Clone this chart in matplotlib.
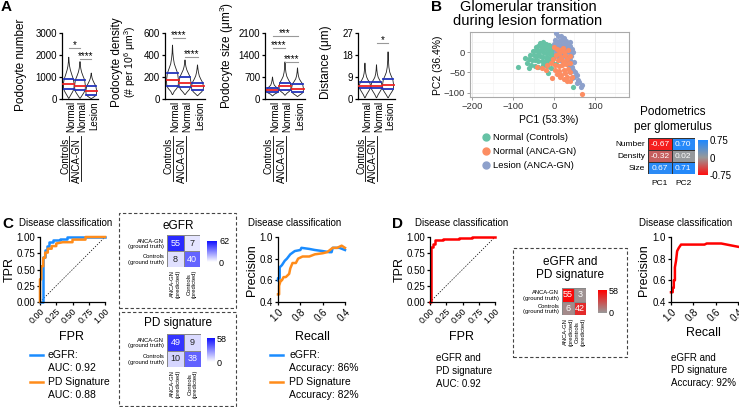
import numpy as np
import matplotlib
matplotlib.use('Agg')
import matplotlib.pyplot as plt
from matplotlib.colors import LinearSegmentedColormap
from matplotlib.patches import Rectangle, Polygon
from matplotlib.lines import Line2D

plt.rcParams['font.family'] = ['Liberation Sans', 'DejaVu Sans']
plt.rcParams['mathtext.fontset'] = 'custom'
plt.rcParams['mathtext.rm'] = 'Liberation Sans'
plt.rcParams['axes.linewidth'] = 0.9

W, H = 739, 407

# ---------------- data ----------------
group_labels = ['Controls', 'ANCA-GN']
sub_labels = ['Normal', 'Normal', 'Lesion']

# violin profiles: levels (index 3,4,5 = Q1, median, Q3) and relative half-widths
violin_widths = [0.03, 0.3, 0.7, 0.95, 1.0, 0.85, 0.55, 0.3, 0.15, 0.06, 0.01]
num_levels = [[30, 150, 320, 450, 680, 900, 1120, 1320, 1500, 1700, 1900],
              [30, 130, 280, 400, 600, 870, 1050, 1220, 1380, 1550, 1700],
              [20, 60, 130, 200, 370, 580, 720, 850, 960, 1080, 1180]]
dens_levels = [[40, 70, 95, 120, 170, 235, 280, 320, 370, 420, 490],
               [40, 60, 85, 110, 150, 200, 235, 265, 295, 325, 355],
               [30, 45, 65, 85, 115, 150, 180, 210, 245, 280, 310]]
size_levels = [[100, 150, 190, 220, 280, 340, 390, 440, 520, 610, 700],
               [120, 180, 240, 300, 410, 520, 620, 720, 850, 1000, 1180],
               [80, 120, 170, 220, 320, 480, 560, 640, 740, 860, 990]]
dist_levels = [[0.5, 1.8, 3.3, 4.3, 5.5, 6.8, 7.8, 9.0, 10.5, 12.5, 14.7],
               [0.5, 1.8, 3.3, 4.3, 5.5, 6.8, 7.8, 8.9, 10.3, 12.0, 14.0],
               [0.5, 1.6, 3.0, 4.0, 5.8, 8.0, 9.5, 11.0, 13.0, 16.0, 19.3]]
num_sig = [(1, 2, 2330, '*'), (2, 3, 1800, '****')]
dens_sig = [(1, 2, 555, '****'), (2, 3, 380, '****')]
size_sig = [(1, 3, 2010, '***'), (1, 2, 1610, '****'), (2, 3, 1190, '****')]
dist_sig = [(2, 3, 22.8, '*')]

# PCA scores
green_x = [-35, -28, -20, -12, -5, 0, -45, -38, -30, -22, -15, -8, -2, -52, -44, -36, -28, -20, -12, -5,
           -58, -50, -42, -34, -26, -18, -10, -3, -62, -54, -46, -38, -30, -22, -14, -6,
           -66, -56, -46, -38, -28, -18, -88, -70, -62, -15, -8, 5, 46, 4, -25, -32, -40, -17]
green_y = [22, 24, 20, 18, 15, 10, 12, 14, 12, 10, 8, 6, 2, 2, 4, 2, 0, -2, -3, -5,
           -8, -8, -10, -10, -12, -12, -14, -14, -18, -20, -20, -22, -22, -24, -24, -24,
           -28, -32, -34, -36, -32, -34, -37, -15, -38, -52, -40, -30, -86, -5, 16, 6, -4, -18]
orange_x = [0, 8, 15, 22, 12, 25, 5, 18, 28, -2, 10, 22, 32, -17, -41, -8, 2, 12, 20, 30, 38,
            2, 12, 24, 34, 8, 18, 28, 38, -5, 15, 32, 25, 32, 40, 45, 68, -20, -30, 35, 40]
orange_y = [12, 8, 5, 10, -2, 0, -8, -12, -8, -18, -20, -22, -18, -32, -37, -28, -32, -34, -32, -30, -28,
            -44, -46, -44, -42, -54, -56, -52, -50, -64, -60, -60, -66, -72, -70, -62, -102, -45, -38, 5, -10]
blue_x = [5, 10, 18, 25, 2, 12, 20, 30, 38, 0, 8, 16, 24, 32, 40, 2, 10, 18, 28, 36, 44,
          5, 14, 22, 30, 38, 46, 8, 16, 26, 34, 42, 12, 20, 30, 40, 48,
          36, 44, 46, 40, 52, 56, 48, 59, 44, 62, 55, 68, 65]
blue_y = [46, 38, 40, 35, 30, 28, 30, 28, 25, 20, 20, 18, 20, 18, 15, 10, 12, 8, 10, 6, 8,
          0, 2, -2, 0, -2, 0, -10, -12, -10, -12, -10, -20, -22, -22, -20, -25,
          -34, -36, -44, -48, -50, -56, -60, -68, -64, -74, -75, -80, -86]
pca_groups = ['Normal (Controls)', 'Normal (ANCA-GN)', 'Lesion (ANCA-GN)']
pca_colors = ['#66c2a5', '#fc8d62', '#8da0cb']

# podometric loadings
load_rows = ['Number', 'Density', 'Size']
load_cols = ['PC1', 'PC2']
loadings = [[-0.67, 0.70], [-0.32, 0.02], [0.67, 0.71]]

# ROC / PR curves
egfr_fpr = [0, 0.04, 0.04, 0.05, 0.05, 0.07, 0.07, 0.1, 0.1, 0.14, 0.14, 0.2, 0.2, 0.3, 0.3, 0.42, 0.42, 1.0]
egfr_tpr = [0, 0, 0.45, 0.45, 0.7, 0.7, 0.8, 0.8, 0.86, 0.86, 0.92, 0.92, 0.95, 0.95, 0.97, 0.97, 1.0, 1.0]
pd_fpr = [0, 0, 0.02, 0.02, 0.05, 0.05, 0.08, 0.08, 0.12, 0.12, 0.18, 0.18, 0.25, 0.25, 0.35, 0.5, 0.5, 0.7, 0.7, 1.0]
pd_tpr = [0, 0.35, 0.35, 0.55, 0.55, 0.68, 0.68, 0.76, 0.76, 0.82, 0.82, 0.86, 0.86, 0.9, 0.92, 0.92, 0.96, 0.96, 1.0, 1.0]
egfr_rec = [1.0, 1.0, 0.985, 0.985, 0.965, 0.94, 0.92, 0.89, 0.85, 0.8, 0.79, 0.72, 0.67, 0.6, 0.54, 0.52, 0.51, 0.45, 0.4]
egfr_prec = [0.6, 0.62, 0.62, 0.72, 0.74, 0.78, 0.8, 0.84, 0.87, 0.88, 0.9, 0.89, 0.88, 0.87, 0.86, 0.86, 0.9, 0.9, 0.88]
pd_rec = [1.0, 0.99, 0.99, 0.975, 0.965, 0.95, 0.93, 0.9, 0.89, 0.87, 0.84, 0.82, 0.78, 0.72, 0.67, 0.6, 0.56, 0.51, 0.47, 0.43, 0.4]
pd_prec = [0.47, 0.47, 0.55, 0.6, 0.6, 0.63, 0.63, 0.66, 0.71, 0.76, 0.76, 0.8, 0.82, 0.82, 0.84, 0.85, 0.86, 0.9, 0.9, 0.92, 0.9]
comb_fpr = [0, 0.02, 0.02, 0.04, 0.04, 0.08, 0.08, 0.2, 0.2, 0.45, 0.45, 0.65, 0.65, 1.0]
comb_tpr = [0, 0, 0.85, 0.85, 0.9, 0.9, 0.95, 0.95, 0.97, 0.97, 0.985, 0.985, 1.0, 1.0]
comb_rec = [1.0, 0.985, 0.985, 0.975, 0.975, 0.965, 0.965, 0.955, 0.945, 0.93, 0.91, 0.7, 0.68, 0.55, 0.4]
comb_prec = [0.49, 0.49, 0.53, 0.53, 0.6, 0.6, 0.72, 0.78, 0.87, 0.9, 0.93, 0.93, 0.94, 0.94, 0.91]

# confusion matrices
cm_rows = ['ANCA-GN\n(ground truth)', 'Controls\n(ground truth)']
cm_cols = ['ANCA-GN\n(predicted)', 'Controls\n(predicted)']
cm_egfr = [[55, 7], [8, 40]]
cm_pd = [[49, 9], [10, 38]]
cm_comb = [[55, 3], [6, 42]]

# ---------------- helpers ----------------
fig = plt.figure(figsize=(W / 100, H / 100), dpi=100)


def box(l, t, r, b):
    return [l / W, 1 - b / H, (r - l) / W, (b - t) / H]


def txt(x, y, s, **kw):
    kw.setdefault('ha', 'center')
    kw.setdefault('va', 'center')
    fig.text(x / W, 1 - y / H, s, **kw)


def prism(ax, fs=7):
    for s in ['top', 'right']:
        ax.spines[s].set_visible(False)
    ax.tick_params(length=2.5, width=0.9, labelsize=fs, pad=1)


def violin_ax(l, r, levels, ymax, yticks, sig):
    ax = fig.add_axes(box(l, 33, r, 99))
    prism(ax, 7)
    for i, lev in enumerate(levels):
        pos = i + 1
        w = np.array(violin_widths) * 0.48
        lev = np.array(lev, float)
        xs = np.concatenate([pos - w, (pos + w)[::-1]])
        ys = np.concatenate([lev, lev[::-1]])
        ax.add_patch(Polygon(np.column_stack([xs, ys]), closed=True, fc='white',
                             ec='#222222', lw=0.6, zorder=2))
        for k, c in [(3, '#2233bb'), (5, '#2233bb'), (4, '#ee2222')]:
            hw = violin_widths[k] * 0.48
            ax.plot([pos - hw, pos + hw], [lev[k], lev[k]], color=c, lw=1.3, zorder=3)
    for a, b, y, s in sig:
        ax.plot([a, b], [y, y], color='#999999', lw=0.8, clip_on=False)
        ax.text((a + b) / 2, y, s, ha='center', va='baseline', fontsize=7, clip_on=False)
    ax.set_xlim(0.4, 3.6)
    ax.set_ylim(0, ymax)
    ax.set_yticks(yticks)
    ax.set_xticks([])
    # category labels
    px = lambda p: l + (p - 0.4) / 3.2 * (r - l)
    for i, s in enumerate(sub_labels):
        txt(px(i + 1) + 2.5, 101, s, rotation=90, va='top', fontsize=7)
    for g, first in [(0, 1), (1, 2)]:
        txt(px(first) - 3.5, 138, group_labels[g], rotation=90, va='top', fontsize=7)
        fig.add_artist(Line2D([(px(first) + 0.5) / W] * 2, [1 - 136 / H, 1 - 181 / H], color='black', lw=0.6))
    return ax


def roc_ax(l, fpr_list, tpr_list, colors):
    ax = fig.add_axes(box(l, 237, l + 65, 302))
    prism(ax, 7)
    ax.plot([0, 1], [0, 1], color='black', lw=0.5, ls=(0, (2, 2)))
    for f, t, c in zip(fpr_list, tpr_list, colors):
        ax.plot(f, t, color=c, lw=1.8, clip_on=False)
    ax.set_xlim(0, 1)
    ax.set_ylim(0, 1)
    tk = [0, 0.25, 0.5, 0.75, 1.0]
    ax.set_xticks(tk)
    ax.set_yticks(tk)
    ax.set_xticklabels(['%.2f' % v for v in tk], rotation=45, ha='right', rotation_mode='anchor', fontsize=6.5)
    ax.set_yticklabels(['%.2f' % v for v in tk])
    return ax


def pr_ax(l, rec_list, prec_list, colors):
    ax = fig.add_axes(box(l, 237, l + 67, 302))
    prism(ax, 7)
    for rc, pc, c in zip(rec_list, prec_list, colors):
        ax.plot(rc, pc, color=c, lw=1.8, clip_on=False)
    ax.set_xlim(1.0, 0.4)
    ax.set_ylim(0.4, 1.0)
    tk = [1.0, 0.8, 0.6, 0.4]
    ax.set_xticks(tk)
    ax.set_yticks(tk)
    ax.set_xticklabels(['%.1f' % v for v in tk], rotation=45, ha='right', rotation_mode='anchor')
    return ax


def conf_ax(l, t, cw, ch, cm, cmap, vmax, cbar_box, white_all=False):
    ax = fig.add_axes(box(l, t, l + 2 * cw, t + 2 * ch))
    arr = np.array(cm)
    ax.pcolormesh(arr[::-1], cmap=cmap, vmin=0, vmax=vmax, edgecolors='#888888', linewidth=0.6)
    for i in range(2):
        for j in range(2):
            v = arr[i, j]
            col = 'white' if (white_all or v > 20) else '#222222'
            ax.text(j + 0.5, 1.5 - i, str(v), ha='center', va='center', color=col, fontsize=6.5)
    ax.set_xlim(0, 2)
    ax.set_ylim(0, 2)
    ax.set_xticks([0.5, 1.5])
    ax.set_yticks([1.5, 0.5])
    ax.set_xticklabels(cm_cols, rotation=90, fontsize=4.2, linespacing=1.1)
    ax.set_yticklabels(cm_rows, fontsize=4.2, linespacing=1.1)
    ax.tick_params(length=0, pad=2)
    for s in ax.spines.values():
        s.set_visible(False)
    cax = fig.add_axes(box(*cbar_box))
    grad = np.linspace(0, vmax, 100).reshape(-1, 1)
    cax.imshow(grad, cmap=cmap, aspect='auto', origin='lower', extent=[0, 1, 0, vmax])
    cax.set_xticks([])
    cax.yaxis.tick_right()
    cax.set_yticks([0, vmax])
    cax.tick_params(length=0, labelsize=6.5, pad=1.5)
    for s in cax.spines.values():
        s.set_visible(False)


def dashed(l, t, r, b):
    fig.add_artist(Rectangle((l / W, 1 - b / H), (r - l) / W, (b - t) / H, transform=fig.transFigure,
                             fill=False, ec='#444444', lw=0.8, ls=(0, (3, 2))))


# ---------------- panel A ----------------
txt(6, 7, 'A', fontsize=11, fontweight='bold')
violin_ax(62, 98, num_levels, 3000, [0, 1000, 2000, 3000], num_sig)
violin_ax(165, 205, dens_levels, 600, [0, 200, 400, 600], dens_sig)
violin_ax(265, 305, size_levels, 2100, [0, 700, 1400, 2100], size_sig)
violin_ax(358, 395, dist_levels, 27, [0, 9, 18, 27], dist_sig)
txt(21, 65, 'Podocyte number', rotation=90, fontsize=8.5)
txt(117, 62, 'Podocyte density', rotation=90, fontsize=8.5)
txt(130, 62, '(# per 10$^6$ μm$^3$)', rotation=90, fontsize=7.5)
txt(227, 55, 'Podocyte size (μm$^3$)', rotation=90, fontsize=8.5)
txt(326, 62, 'Distance (μm)', rotation=90, fontsize=8.5)

# ---------------- panel B ----------------
txt(437, 7, 'B', fontsize=11, fontweight='bold')
txt(528, 7, 'Glomerular transition', fontsize=10.5)
txt(528, 21, 'during lesion formation', fontsize=10.5)
axp = fig.add_axes(box(470, 32, 629, 97))
axp.set_axisbelow(True)
axp.grid(True, which='major', color='#e6e6e6', lw=0.6)
axp.grid(True, which='minor', color='#f2f2f2', lw=0.4)
for xs, ys, c in zip([green_x, blue_x, orange_x], [green_y, blue_y, orange_y],
                     [pca_colors[0], pca_colors[2], pca_colors[1]]):
    axp.scatter(xs, ys, s=14, color=c, lw=0, zorder=3)
axp.set_xlim(-205, 183)
axp.set_ylim(-110, 49)
axp.set_xticks([-200, -100, 0, 100])
axp.set_yticks([-100, -50, 0])
axp.set_xticks([-150, -50, 50, 150], minor=True)
axp.set_yticks([-75, -25, 25], minor=True)
axp.tick_params(which='major', length=2, width=0.5, color='#777777', labelsize=6.8, labelcolor='#333333', pad=1.5)
axp.tick_params(which='minor', length=0)
for s in axp.spines.values():
    s.set_color('#aaaaaa')
    s.set_linewidth(0.8)
txt(549, 120, 'PC1 (53.3%)', fontsize=7.5)
txt(438, 65, 'PC2 (36.4%)', rotation=90, fontsize=7.5)
for k, (lab, c) in enumerate(zip(pca_groups, pca_colors)):
    yy = [137, 151, 165][k]
    fig.add_artist(Line2D([486 / W], [1 - yy / H], marker='o', ms=5, color=c, mec=c, lw=0,
                          transform=fig.transFigure))
    txt(493, yy, lab, ha='left', fontsize=6.8)

txt(673, 112, 'Podometrics', fontsize=8.5)
txt(673, 127, 'per glomerulus', fontsize=8.5)
cmap_load = LinearSegmentedColormap.from_list('load', ['#ff1010', '#999999', '#1e88ff'])
axh = fig.add_axes(box(648, 138, 695, 174))
larr = np.array(loadings)
axh.pcolormesh(larr[::-1], cmap=cmap_load, vmin=-0.75, vmax=0.75, edgecolors='#333333', linewidth=0.6)
for i in range(3):
    for j in range(2):
        axh.text(j + 0.5, 2.5 - i, '%.2f' % larr[i, j], ha='center', va='center', color='white', fontsize=6)
axh.set_xlim(0, 2)
axh.set_ylim(0, 3)
axh.set_xticks([0.5, 1.5])
axh.set_xticklabels(load_cols, fontsize=6)
axh.set_yticks([2.5, 1.5, 0.5])
axh.set_yticklabels(load_rows, fontsize=6)
axh.tick_params(axis='x', length=0, pad=4)
axh.tick_params(axis='y', length=0, pad=2)
for s in axh.spines.values():
    s.set_visible(False)
caxh = fig.add_axes(box(698, 140, 707, 175))
grad = np.linspace(-0.75, 0.75, 100).reshape(-1, 1)
caxh.imshow(grad, cmap=cmap_load, aspect='auto', origin='lower', extent=[0, 1, -0.75, 0.75])
caxh.set_xticks([])
caxh.yaxis.tick_right()
caxh.set_yticks([-0.75, 0, 0.75])
caxh.set_yticklabels(['-0.75', '0', '0.75'])
caxh.tick_params(length=0, labelsize=7, pad=2)
for s in caxh.spines.values():
    s.set_visible(False)

# ---------------- panel C ----------------
txt(8, 224, 'C', fontsize=11, fontweight='bold')
txt(66, 223, 'Disease classification', fontsize=7)
roc_ax(40, [egfr_fpr, pd_fpr], [egfr_tpr, pd_tpr], ['#1a8cff', '#ff8c1a'])
txt(10, 270, 'TPR', rotation=90, fontsize=9)
txt(72, 337, 'FPR', fontsize=9)
for yy, c in [(355, '#1a8cff'), (382, '#ff8c1a')]:
    fig.add_artist(Line2D([30 / W, 43 / W], [1 - yy / H] * 2, color=c, lw=1.8))
txt(48, 355, 'eGFR:', ha='left', fontsize=7.5)
txt(48, 368, 'AUC: 0.92', ha='left', fontsize=7.5)
txt(48, 382, 'PD Signature', ha='left', fontsize=7.5)
txt(48, 395, 'AUC: 0.88', ha='left', fontsize=7.5)

dashed(119, 213, 236, 308)
dashed(119, 312, 236, 406)
cmap_blue = LinearSegmentedColormap.from_list('bl', ['#ffffff', '#1010ff'])
txt(178, 226, 'eGFR', fontsize=8.5)
conf_ax(167, 235, 16.5, 16, cm_egfr, cmap_blue, 62, (207, 241, 217, 262))
txt(178, 323, 'PD signature', fontsize=8.5)
conf_ax(167, 334, 17, 16.5, cm_pd, cmap_blue, 58, (207, 338, 215, 362))

txt(295, 223, 'Disease classification', fontsize=7)
pr_ax(278, [egfr_rec, pd_rec], [egfr_prec, pd_prec], ['#1a8cff', '#ff8c1a'])
txt(252, 270, 'Precision', rotation=90, fontsize=9)
txt(312, 337, 'Recall', fontsize=9)
for yy, c in [(355, '#1a8cff'), (382, '#ff8c1a')]:
    fig.add_artist(Line2D([270 / W, 283 / W], [1 - yy / H] * 2, color=c, lw=1.8))
txt(289, 355, 'eGFR:', ha='left', fontsize=7.5)
txt(289, 368, 'Accuracy: 86%', ha='left', fontsize=7.5)
txt(289, 382, 'PD Signature', ha='left', fontsize=7.5)
txt(289, 395, 'Accuracy: 82%', ha='left', fontsize=7.5)

# ---------------- panel D ----------------
txt(397, 224, 'D', fontsize=11, fontweight='bold')
txt(462, 223, 'Disease classification', fontsize=7)
roc_ax(430, [comb_fpr], [comb_tpr], ['#ff0000'])
txt(400, 270, 'TPR', rotation=90, fontsize=9)
txt(462, 337, 'FPR', fontsize=9)
txt(436, 358, 'eGFR and', ha='left', fontsize=7)
txt(436, 371, 'PD signature', ha='left', fontsize=7)
txt(436, 384, 'AUC: 0.92', ha='left', fontsize=7)

dashed(513, 248, 627, 357)
cmap_red = LinearSegmentedColormap.from_list('rd', ['#9a9a9a', '#ff0000'])
txt(570, 262, 'eGFR and', fontsize=8.5)
txt(570, 275, 'PD signature', fontsize=8.5)
conf_ax(562, 288, 12, 13.5, cm_comb, cmap_red, 58, (598, 290, 607, 313), white_all=True)

txt(686, 223, 'Disease classification', fontsize=7)
pr_ax(671, [comb_rec], [comb_prec], ['#ff0000'])
txt(644, 270, 'Precision', rotation=90, fontsize=9)
txt(703, 333, 'Recall', fontsize=9)
txt(671, 358, 'eGFR and', ha='left', fontsize=7)
txt(671, 370, 'PD signature', ha='left', fontsize=7)
txt(671, 383, 'Accuracy: 92%', ha='left', fontsize=7)

fig.savefig('out.png', dpi=100)
